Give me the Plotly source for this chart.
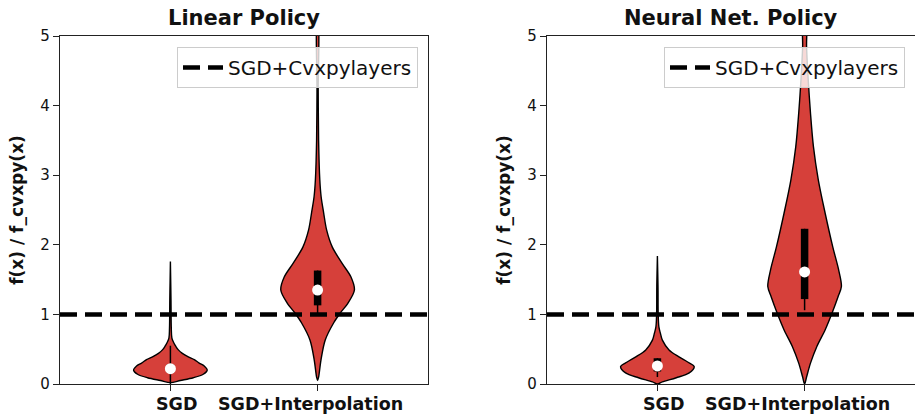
import plotly.graph_objects as go

# ---------------- data ----------------
categories = ["SGD", "SGD+Interpolation"]
panel_titles = ["Linear Policy", "Neural Net. Policy"]
y_label = "f(x) / f_cvxpy(x)"
baseline_name = "SGD+Cvxpylayers"
baseline_value = 1.0

# violin density profiles (y level, relative density)
lin_sgd_y = [0.02, 0.05, 0.09, 0.14, 0.20, 0.26, 0.30, 0.35, 0.39, 0.44, 0.49, 0.54, 0.59, 0.66, 0.80, 1.20, 1.76]
lin_sgd_d = [0.0, 10, 23, 33, 37, 34, 29, 24, 18, 12, 8, 5.5, 3.5, 1.5, 0.9, 0.6, 0.0]

lin_int_y = [0.05, 0.10, 0.34, 0.63, 0.88, 1.02, 1.16, 1.35, 1.54, 1.74, 1.97, 2.21, 2.46, 2.69, 2.93, 3.50, 4.20, 5.30]
lin_int_d = [0.0, 1.0, 3.3, 7.5, 16, 22.5, 30, 36.5, 33, 24, 14.5, 9, 6, 3.5, 2.2, 1.0, 0.6, 0.4]

nn_sgd_y = [0.00, 0.03, 0.09, 0.16, 0.25, 0.32, 0.39, 0.49, 0.63, 0.73, 0.82, 1.00, 1.40, 1.84]
nn_sgd_d = [0.0, 5, 19, 32, 37, 30, 21.7, 11.7, 5, 3, 1.5, 0.8, 0.6, 0.0]

nn_int_y = [0.00, 0.10, 0.30, 0.54, 0.78, 1.02, 1.25, 1.40, 1.64, 1.97, 2.45, 2.93, 3.41, 3.89, 4.37, 4.85, 5.30]
nn_int_d = [0.0, 2, 6, 12.5, 21, 28, 34, 37.5, 34.7, 28.7, 21, 14, 9, 6, 3.7, 2, 1.5]

# box statistics: lower whisker, q1, median, q3, upper whisker
lin_sgd_stats = [0.00, 0.16, 0.22, 0.28, 0.55]
lin_int_stats = [1.02, 1.13, 1.35, 1.63, 1.63]
nn_sgd_stats = [0.10, 0.18, 0.26, 0.37, 0.37]
nn_int_stats = [1.06, 1.22, 1.61, 2.23, 2.23]

panels = [
    [(lin_sgd_y, lin_sgd_d, lin_sgd_stats), (lin_int_y, lin_int_d, lin_int_stats)],
    [(nn_sgd_y, nn_sgd_d, nn_sgd_stats), (nn_int_y, nn_int_d, nn_int_stats)],
]

# ---------------- style ----------------
FONT = "DejaVu Sans"
VIOLIN_FILL = "#d6403a"
HALF_WIDTH = 0.25
X_RANGE = [-0.75, 1.75]
Y_RANGE = [0, 5]
W, H = 915, 417

x_domains = [[60 / W, 428 / W], [547 / W, 1.0]]
y_domain = [1 - 384 / H, 1 - 36 / H]
legend_right = [418 / W, 905 / W]
label_shift = [7, -7]

fig = go.Figure()

for p, panel in enumerate(panels):
    xa = "x" if p == 0 else "x2"
    ya = "y" if p == 0 else "y2"
    for ci, (ys, ds, st) in enumerate(panel):
        dmax = max(ds)
        right = [ci + HALF_WIDTH * d / dmax for d in ds]
        left = [ci - HALF_WIDTH * d / dmax for d in ds]
        fig.add_trace(go.Scatter(
            x=right + left[::-1], y=ys + ys[::-1],
            mode="lines", fill="toself", fillcolor=VIOLIN_FILL,
            line=dict(color="black", width=1.4, shape="spline", smoothing=0.9),
            xaxis=xa, yaxis=ya, showlegend=False, hoverinfo="skip"))
        lo, q1, med, q3, hi = st
        fig.add_trace(go.Scatter(
            x=[ci, ci], y=[lo, hi], mode="lines",
            line=dict(color="black", width=1.5),
            xaxis=xa, yaxis=ya, showlegend=False, hoverinfo="skip"))
        fig.add_trace(go.Scatter(
            x=[ci, ci], y=[q1, q3], mode="lines",
            line=dict(color="black", width=7.5),
            xaxis=xa, yaxis=ya, showlegend=False, hoverinfo="skip"))
        fig.add_trace(go.Scatter(
            x=[ci], y=[med], mode="markers",
            marker=dict(color="white", size=11, line=dict(width=0)),
            xaxis=xa, yaxis=ya, showlegend=False, hoverinfo="skip"))
    fig.add_trace(go.Scatter(
        x=X_RANGE, y=[baseline_value, baseline_value], mode="lines",
        name=baseline_name,
        line=dict(color="black", width=4.5, dash="17px,8px"),
        xaxis=xa, yaxis=ya, showlegend=True,
        legend="legend" if p == 0 else "legend2", hoverinfo="skip"))

axis_common = dict(showline=True, linecolor="#222222", linewidth=1.2, mirror=True,
                   ticks="outside", ticklen=6, tickwidth=1.2, tickcolor="#222222",
                   showgrid=False, zeroline=False, automargin=False)

legend_common = dict(
    yanchor="top", xanchor="right", y=1 - 47 / H,
    bgcolor="rgba(255,255,255,0.8)", bordercolor="#cccccc", borderwidth=1,
    font=dict(family=FONT, size=20, color="#111111"),
    itemwidth=40)

layout = dict(
    width=W, height=H,
    margin=dict(l=0, r=0, t=0, b=0, autoexpand=False),
    paper_bgcolor="white", plot_bgcolor="white",
    font=dict(family=FONT, color="#111111"),
    legend=dict(x=legend_right[0], **legend_common),
    legend2=dict(x=legend_right[1], **legend_common),
    annotations=[],
)

for p in range(2):
    sfx = "" if p == 0 else "2"
    layout["xaxis" + sfx] = dict(domain=x_domains[p], range=X_RANGE,
                                 tickvals=[0, 1], showticklabels=False,
                                 anchor="y" + sfx, **axis_common)
    layout["yaxis" + sfx] = dict(domain=y_domain, range=Y_RANGE, dtick=1,
                                 anchor="x" + sfx,
                                 tickfont=dict(family=FONT, size=15, color="#111111"),
                                 title=dict(text="<b>" + y_label + "</b>",
                                            font=dict(family=FONT, size=17, color="#111111"),
                                            standoff=12),
                                 **axis_common)
    layout["annotations"].append(dict(
        text="<b>" + panel_titles[p] + "</b>", xref="x" + sfx + " domain", yref="y" + sfx + " domain",
        x=0.5, y=1, xanchor="center", yanchor="bottom", yshift=4, showarrow=False,
        font=dict(family=FONT, size=21, color="#111111")))
    for ci, cat in enumerate(categories):
        layout["annotations"].append(dict(
            text="<b>" + cat + "</b>", xref="x" + sfx, yref="y" + sfx + " domain",
            x=ci, y=0, xanchor="center", yanchor="top", yshift=-8, xshift=label_shift[ci],
            showarrow=False, font=dict(family=FONT, size=17.5, color="#111111")))

fig.update_layout(**layout)
fig.write_html("out.html")
